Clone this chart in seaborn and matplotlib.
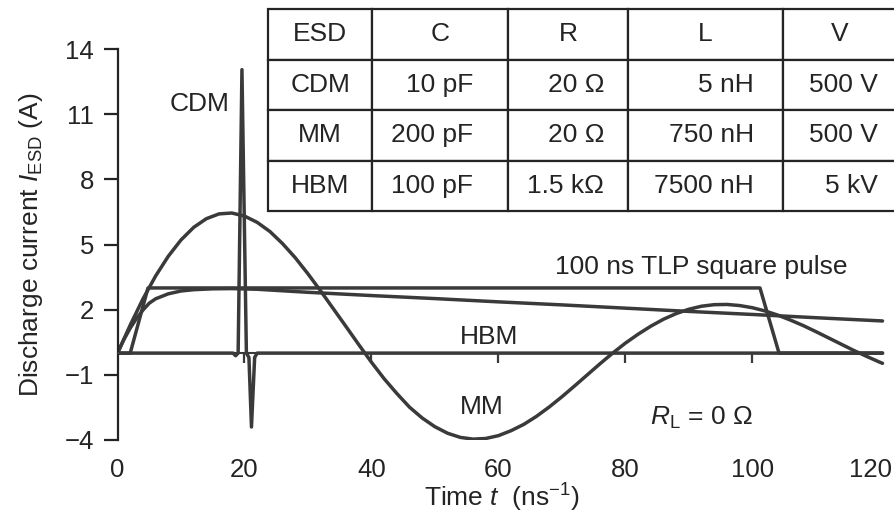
import numpy as np
import pandas as pd
import matplotlib
matplotlib.use("Agg")
import matplotlib.pyplot as plt
import matplotlib.transforms as mtransforms
import seaborn as sns
from matplotlib.table import Table

# ---------------- data ----------------
mm_time = [0, 2, 4, 6, 8, 10, 12, 14, 16, 18, 20, 22, 24, 26, 28, 30, 32, 34, 36, 38,
           40, 42, 44, 46, 48, 50, 52, 54, 56, 58, 60, 62, 64, 66, 68, 70, 72, 74, 76, 78,
           80, 82, 84, 86, 88, 90, 92, 94, 96, 98, 100, 102, 104, 106, 108, 110, 112, 114,
           116, 118, 120, 120.5]
mm_current = [0, 1.29, 2.49, 3.55, 4.46, 5.21, 5.79, 6.19, 6.41, 6.45, 6.31, 6.02, 5.60,
              5.04, 4.39, 3.65, 2.86, 2.04, 1.22, 0.39, -0.42, -1.18, -1.86, -2.49, -2.99,
              -3.39, -3.69, -3.88, -3.96, -3.93, -3.80, -3.57, -3.28, -2.91, -2.48, -2.01,
              -1.51, -1.00, -0.49, 0.0, 0.46, 0.87, 1.24, 1.56, 1.82, 2.02, 2.16, 2.23, 2.24,
              2.19, 2.09, 1.94, 1.75, 1.52, 1.27, 0.99, 0.70, 0.41, 0.12, -0.15, -0.41, -0.47]

hbm_time = [0, 1, 2, 3, 4, 5, 6, 8, 10, 12, 15, 18, 22, 30, 40, 50, 60, 70, 80, 90, 100,
            110, 120.5]
hbm_current = [0, 0.62, 1.15, 1.60, 1.98, 2.30, 2.50, 2.73, 2.86, 2.92, 2.96, 2.97, 2.94,
               2.80, 2.65, 2.51, 2.36, 2.22, 2.07, 1.92, 1.78, 1.63, 1.48]

tlp_time = [0, 2.0, 4.8, 101.2, 104.2, 120.5]
tlp_current = [0, 0, 3.0, 3.0, 0, 0]

cdm_time = [0, 18.2, 18.6, 19.0, 19.6, 20.3, 20.7, 21.1, 21.6, 22.0, 120.5]
cdm_current = [0, 0, -0.12, 0, 13.05, 0, -0.2, -3.4, -0.2, 0, 0]

x_ticks = [0, 20, 40, 60, 80, 100, 120]
x_tick_marks = [20, 40, 60, 80, 100]
y_ticks = [-4, -1, 2, 5, 8, 11, 14]

table_header = ["ESD", "C", "R", "L", "V"]
table_rows = [
    ["CDM", "10 pF", "20 \u03a9", "5 nH", "500 V"],
    ["MM", "200 pF", "20 \u03a9", "750 nH", "500 V"],
    ["HBM", "100 pF", "1.5 k\u03a9", "7500 nH", "5 kV"],
]

# ---------------- style ----------------
sns.set_theme(style="white")
plt.rcParams["font.family"] = ["Liberation Sans", "DejaVu Sans"]
plt.rcParams["mathtext.fontset"] = "custom"
plt.rcParams["mathtext.rm"] = "Liberation Sans"
plt.rcParams["mathtext.it"] = "Liberation Sans:italic"
plt.rcParams["mathtext.bf"] = "Liberation Sans:bold"

INK = "#242424"
LINE = "#3a3a3a"
LW = 2.5
FS_TICK = 18.5
FS_TEXT = 19

fig = plt.figure(figsize=(8.95, 5.26), dpi=100)
fig.patch.set_facecolor("white")
ax = fig.add_axes([0.1313, 0.1635, 0.8583, 0.7433])
ax.set_facecolor("white")

series = [(mm_time, mm_current), (hbm_time, hbm_current),
          (tlp_time, tlp_current), (cdm_time, cdm_current)]
for t, i in series:
    df = pd.DataFrame({"t": t, "i": i})
    sns.lineplot(data=df, x="t", y="i", ax=ax, sort=False, estimator=None,
                 color=LINE, linewidth=LW, solid_joinstyle="round")

ax.set_xlim(0, 121)
ax.set_ylim(-4, 14)

# y axis
ax.spines["left"].set_bounds(-4, 14)
ax.spines["left"].set_linewidth(1.6)
ax.spines["left"].set_color(INK)
ax.set_yticks(y_ticks)
ax.set_yticklabels([f"{v}".replace("-", "\u2212") for v in y_ticks])
ax.tick_params(axis="y", direction="out", length=10, width=1.6, color=INK,
               labelsize=FS_TICK, labelcolor=INK, pad=7, left=True)

# x axis: tick marks on the zero line, labels at the bottom
for s in ["top", "right"]:
    ax.spines[s].set_visible(False)
ax.spines["bottom"].set_position(("data", 0))
ax.spines["bottom"].set_bounds(0, 120.5)
ax.spines["bottom"].set_linewidth(1.5)
ax.spines["bottom"].set_color(LINE)
ax.set_xticks(x_tick_marks)
ax.tick_params(axis="x", direction="out", length=7, width=1.6, color=LINE,
               labelbottom=False, bottom=True)

sec = ax.secondary_xaxis("bottom")
sec.set_xticks(x_ticks)
sec.spines["bottom"].set_visible(False)
sec.tick_params(axis="x", length=0, labelsize=FS_TICK, labelcolor=INK, pad=13)
sec.set_xlabel(r"Time $t$  (ns$^{-1}$)", fontsize=FS_TEXT, color=INK, labelpad=0)
fig.canvas.draw()
last = sec.get_xticklabels()[-1]
last.set_transform(last.get_transform() +
                   mtransforms.ScaledTranslation(-9 / 100, 0, fig.dpi_scale_trans))

ax.set_xlabel("")
ax.set_ylabel(r"Discharge current $I_{\mathrm{ESD}}$ (A)", fontsize=FS_TEXT, color=INK,
              labelpad=14)

# annotations
ax.text(17.7, 11.13, "CDM", fontsize=FS_TEXT, color=INK, ha="right", va="baseline")
ax.text(68.9, 3.62, "100 ns TLP square pulse", fontsize=FS_TEXT, color=INK,
        ha="left", va="baseline")
ax.text(53.9, 0.44, "HBM", fontsize=FS_TEXT, color=INK, ha="left", va="baseline")
ax.text(53.9, -2.79, "MM", fontsize=FS_TEXT, color=INK, ha="left", va="baseline")
ax.text(83.9, -3.3, "$R_{\\mathrm{L}}$ = 0 \u03a9",
        fontsize=FS_TEXT, color=INK, ha="left", va="baseline")

# table
col_px = [104, 136, 120, 155, 114]
total = sum(col_px)
tbl = Table(ax, bbox=[0.196, 0.5857, 1.015 - 0.196, 1.1023 - 0.5857])
all_rows = [table_header] + table_rows
n_rows = len(all_rows)
for r, row in enumerate(all_rows):
    for c, txt in enumerate(row):
        loc = "center"
        pad = 0.1
        if r > 0 and c == 1:
            loc, pad = "right", 0.26
        if r > 0 and c == 2:
            loc, pad = "right", 0.2
        if r > 0 and c == 3:
            loc, pad = "right", 0.19
        if r > 0 and c == 4:
            loc, pad = "right", 0.17
        cell = tbl.add_cell(r, c, width=col_px[c] / total, height=1.0 / n_rows,
                            text=txt, loc=loc, facecolor="white", edgecolor=INK)
        cell.PAD = pad
        cell.set_linewidth(1.6)
        cell.get_text().set_color(INK)
tbl.auto_set_font_size(False)
tbl.set_fontsize(FS_TEXT)
tbl.set_clip_on(False)
ax.add_table(tbl)

fig.savefig("out.png", dpi=100, facecolor="white")
